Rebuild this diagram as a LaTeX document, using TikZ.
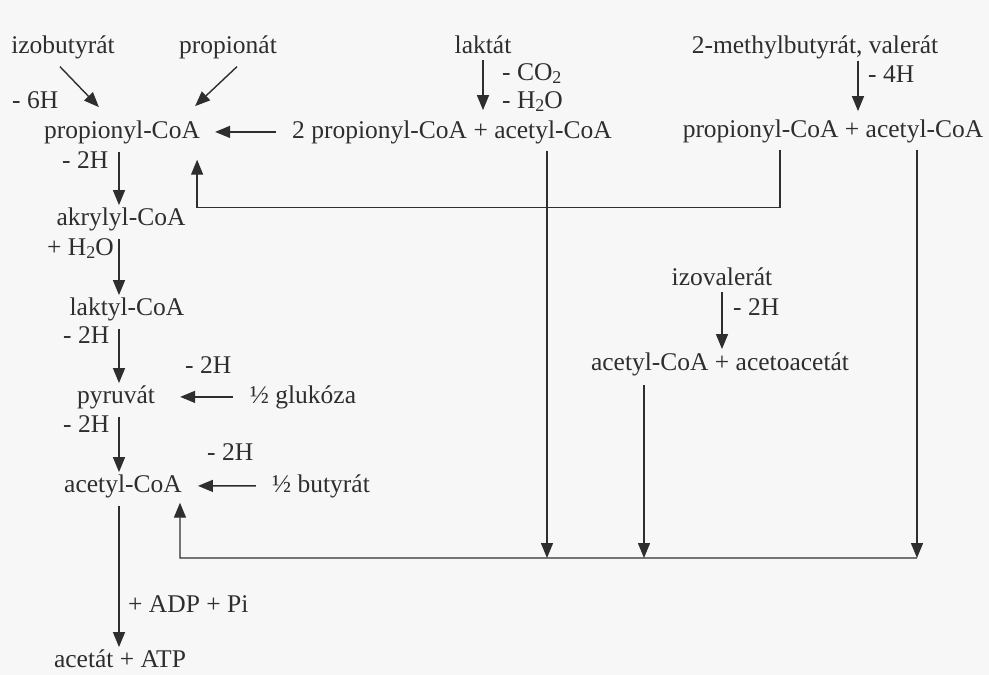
\documentclass[tikz,border=0pt]{standalone}
\usepackage{fontspec}
\setmainfont{Liberation Serif}
\usetikzlibrary{arrows.meta}
\definecolor{ink}{HTML}{2E2E2E}
\definecolor{paper}{HTML}{F7F7F7}
\newcommand{\lowidx}[1]{\raisebox{-0.28ex}{\fontsize{18}{18}\selectfont #1}}

\begin{document}
\begin{tikzpicture}[
    x=1pt, y=-1pt,
    font=\fontsize{25.5}{30}\selectfont,
    mol/.style={inner sep=0pt, anchor=base, text=ink},
    cond/.style={inner sep=0pt, anchor=base west, text=ink},
    arrow/.style={-{Triangle[length=15pt,width=12pt]}, line width=1.4pt, draw=ink}
]
\useasboundingbox[fill=paper] (0,0) rectangle (989,675);

% substrates and products
\node[mol] (izob) at (63,53) {izobutyrát};
\node[mol] (propt) at (228,53) {propionát};
\node[mol] (lakt) at (483,53) {laktát};
\node[mol] (mbv) at (815,53) {2-methylbutyrát, valerát};
\node[mol] (pcoa) at (122,138) {propionyl-CoA};
\node[mol] (p2a) at (452,138) {2 propionyl-CoA + acetyl-CoA};
\node[mol] (rpa) at (833,137) {propionyl-CoA + acetyl-CoA};
\node[mol] (akr) at (121,225) {akrylyl-CoA};
\node[mol] (lkc) at (127,315) {laktyl-CoA};
\node[mol] (pyr) at (116,403) {pyruvát};
\node[mol] (glu) at (303,403) {½ glukóza};
\node[mol] (acoa) at (123,492) {acetyl-CoA};
\node[mol] (but) at (321,492) {½ butyrát};
\node[mol] (izv) at (722,285) {izovalerát};
\node[mol] (aaa) at (720,370) {acetyl-CoA + acetoacetát};
\node[mol] (atp) at (120,667) {acetát + ATP};

% side conditions
\node[cond] (c6h) at (12,108) {- 6H};
\node[cond] (co2) at (502,80) {- CO\lowidx{2}};
\node[cond] (h2o) at (502,108) {- H\lowidx{2}O};
\node[cond] (c4h) at (868,82) {- 4H};
\node[cond] (c2ha) at (62,168) {- 2H};
\node[cond] (wat) at (47,255) {+ H\lowidx{2}O};
\node[cond] (c2hb) at (63,343) {- 2H};
\node[cond] (c2hc) at (185,373) {- 2H};
\node[cond] (c2hd) at (63,432) {- 2H};
\node[cond] (c2he) at (207,460) {- 2H};
\node[cond] (c2hf) at (733,315) {- 2H};
\node[cond] (adp) at (128,612) {+ ADP + Pi};

\coordinate (col) at (119,0);
\coordinate (busR) at (917,558);
\coordinate (busM) at (547,558);
\coordinate (busA) at (644,558);
\coordinate (busL) at (180,558);

% main chain
\foreach \a/\b in {pcoa/akr, akr/lkc, lkc/pyr, pyr/acoa, acoa/atp}
  \draw[arrow, shorten <=8pt, shorten >=2pt] (\a.south -| col) -- (\b.north -| col);

\draw[arrow] ([shift={(-3,8)}]izob.south) -- ([shift={(55,-13)}]pcoa.north west);
\draw[arrow] ([shift={(9,8)}]propt.south) -- ([shift={(-5,-14)}]pcoa.north east);
\draw[arrow, shorten <=7pt, shorten >=10pt] (lakt.south) -- (lakt.south |- p2a.north);
\draw[arrow] ([shift={(43,2)}]mbv.south) -- ([shift={(25,-8)}]rpa.north);
\draw[arrow, shorten <=7pt, shorten >=3pt] (izv.south) -- (izv.south |- aaa.north);

\draw[arrow, shorten <=16pt, shorten >=15pt] (p2a.west) -- (pcoa.east);
\draw[arrow, shorten <=17pt, shorten >=25pt] (glu.west) -- (pyr.east);
\draw[arrow, shorten <=16pt, shorten >=16pt] (but.west) -- (acoa.east);

\draw[arrow] ([shift={(-53,7)}]rpa.south) -- ++(0,58) -| ([shift={(-3,16)}]pcoa.south east);

% acetyl-CoA collector
\draw[arrow, shorten <=7pt] (rpa.south -| busR) -- (busR);
\draw[arrow, shorten <=7pt] (p2a.south -| busM) -- (busM);
\draw[arrow, shorten <=9pt] (aaa.south -| busA) -- (busA);
\draw[arrow] (busR) -- (busL) -- ([shift={(-2,5)}]acoa.south east);
\end{tikzpicture}
\end{document}
